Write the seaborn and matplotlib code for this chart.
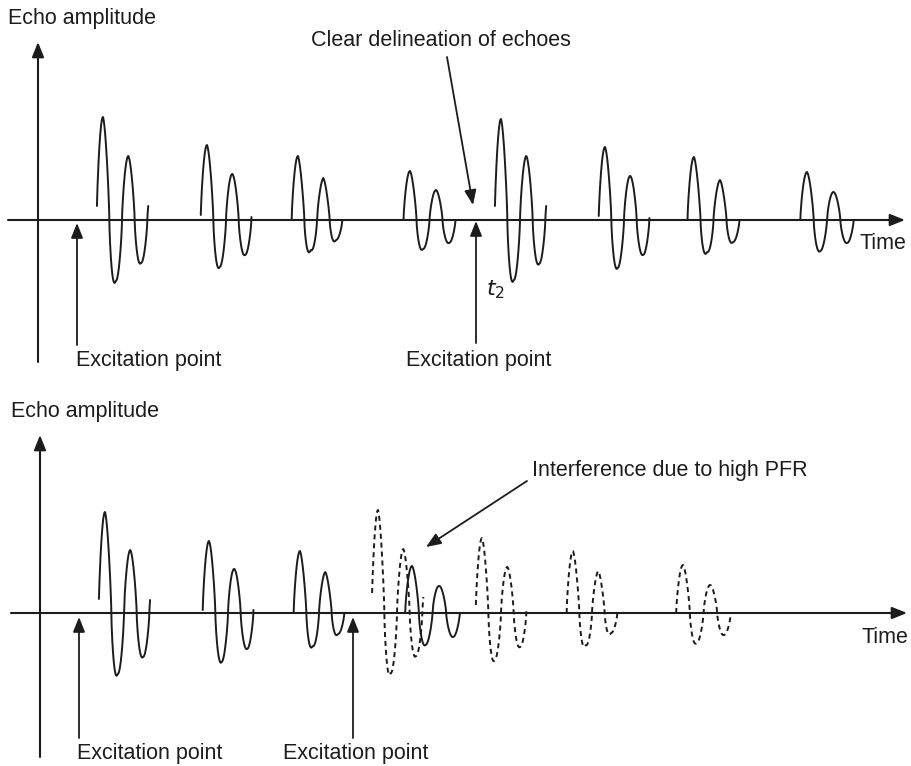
import numpy as np
import pandas as pd
import matplotlib
matplotlib.use("Agg")
import matplotlib.pyplot as plt
import seaborn as sns

# The drawing is laid out in image pixels: x to the right, y downwards.
TOP_BASE = 220
BOT_BASE = 613

# top trace - two trains of echoes, each echo: x of first peak, x of last trough,
# lobe heights (peak, trough, peak, trough) and how far above the base line
# the stroke starts / stops (px)
top_peak_x = [103, 207, 298, 410, 501, 605, 694, 807]
top_trough_x = [141, 245, 336, 449, 539, 643, 733, 847]
top_amps = [
    [103, 61, 64, 43],
    [75, 47, 46, 35],
    [64, 30, 42, 20],
    [49, 29, 30, 23],
    [101, 60, 64, 44],
    [73, 48, 44, 35],
    [63, 32, 40, 22],
    [48, 31, 28, 23],
]
top_start_lift = [14, 5, 0, 0, 14, 4, 0, 0]
top_end_lift = [14, 3, 0, 0, 14, 2, 0, 0]

# bottom trace - echoes of the first pulse (solid)
bot_peak_x = [105, 209, 300, 412]
bot_trough_x = [143, 247, 338, 453]
bot_amps = [
    [101, 61, 63, 44],
    [72, 49, 44, 36],
    [62, 33, 41, 21],
    [47, 32, 27, 24],
]
bot_start_lift = [14, 3, 0, 0]
bot_end_lift = [13, 3, 0, 0]

# ... and of the second pulse, fired too early (dashed)
dash_peak_x = [378, 482, 573, 683]
dash_trough_x = [416, 520, 611, 724]
dash_amps = [
    [103, 60, 64, 43],
    [75, 47, 46, 34],
    [62, 32, 42, 20],
    [48, 30, 28, 22],
]
dash_start_lift = [20, 8, 0, 0]
dash_end_lift = [16, 3, 0, 0]

INK = "#1c1c1c"
FONT = ["Liberation Sans", "DejaVu Sans"]
SHAPE = 0.72  # <1 gives the fat, round-topped lobes of the hand drawing


def echo_frame(peak_x, trough_x, amps, lift0, lift1, base, tag):
    rows = []
    for i, (px, tx, a, l0, l1) in enumerate(zip(peak_x, trough_x, amps, lift0, lift1)):
        half = (tx - px) / 3.0
        # phase (in half periods) where the stroke reaches the given lift
        s = -np.arccos((l0 / a[0]) ** (1 / SHAPE)) / np.pi
        e = 4 - np.arccos((l1 / a[3]) ** (1 / SHAPE)) / np.pi
        ph = np.linspace(s, e, 400)
        c = np.cos(np.pi * ph)
        amp = np.interp(ph, [0, 1, 2, 3], a)
        rows.append(pd.DataFrame({
            "x": px + ph * half,
            "y": base - amp * np.sign(c) * np.abs(c) ** SHAPE,
            "echo": f"{tag}{i}",
        }))
    return pd.concat(rows, ignore_index=True)


def arrow(ax, tail, tip, lw=1.3, head="-|>,head_length=0.5,head_width=0.2"):
    ax.annotate("", xy=tip, xytext=tail,
                arrowprops=dict(arrowstyle=head, color=INK, lw=lw,
                                mutation_scale=18, shrinkA=0, shrinkB=0))


def label(ax, x, y, s, **kw):
    ax.text(x, y, s, fontsize=15.5, color=INK, family=FONT, va="baseline", ha="left", **kw)


sns.set_style("white")
plt.rcParams["mathtext.fontset"] = "dejavusans"

fig = plt.figure(figsize=(9.11, 7.66), dpi=100)
ax = fig.add_axes([0, 0, 1, 1])

top_df = echo_frame(top_peak_x, top_trough_x, top_amps, top_start_lift, top_end_lift, TOP_BASE, "t")
bot_df = echo_frame(bot_peak_x, bot_trough_x, bot_amps, bot_start_lift, bot_end_lift, BOT_BASE, "b")
dash_df = echo_frame(dash_peak_x, dash_trough_x, dash_amps, dash_start_lift, dash_end_lift, BOT_BASE, "d")

for df, ls in [(top_df, "-"), (bot_df, "-"), (dash_df, (0, (2.6, 2.0)))]:
    sns.lineplot(data=df, x="x", y="y", units="echo", estimator=None, sort=False,
                 color=INK, lw=1.4, linestyle=ls, legend=False, ax=ax)

# axes of both traces
arrow(ax, (38, 362), (38, 42), lw=1.5)
arrow(ax, (8, TOP_BASE), (905, TOP_BASE), lw=1.5)
arrow(ax, (40, 757), (40, 435), lw=1.5)
arrow(ax, (11, BOT_BASE), (907, BOT_BASE), lw=1.5)

# excitation points
arrow(ax, (77, 345), (77, 223))
arrow(ax, (476, 343), (476, 221))
arrow(ax, (79, 738), (79, 617))
arrow(ax, (353, 738), (353, 617))

# call-outs
arrow(ax, (447, 57), (473, 205))
arrow(ax, (527, 481), (426, 547))

label(ax, 8, 24, "Echo amplitude")
label(ax, 311, 46, "Clear delineation of echoes")
label(ax, 860, 249, "Time")
label(ax, 76, 366, "Excitation point")
label(ax, 406, 366, "Excitation point")
ax.text(486, 295, r"$t_2$", fontsize=16, color=INK, va="baseline", ha="left")

label(ax, 11, 417, "Echo amplitude")
label(ax, 532, 476, "Interference due to high PFR")
label(ax, 862, 643, "Time")
label(ax, 77, 759, "Excitation point")
label(ax, 283, 759, "Excitation point")

ax.set_xlim(0, 911)
ax.set_ylim(766, 0)
ax.axis("off")

fig.savefig("out.png", dpi=100, facecolor="white")
